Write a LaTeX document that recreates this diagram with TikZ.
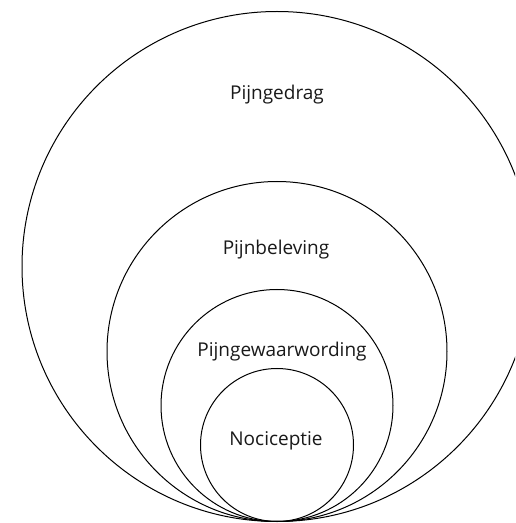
\documentclass[tikz,border=0pt]{standalone}
\usepackage{fontspec}
\setmainfont{Open Sans}
\begin{document}
\begin{tikzpicture}[x=1pt,y=1pt,
  ring/.style={circle,draw=black,line width=1pt,inner sep=0pt,minimum size=#1},
  lbl/.style={font=\fontsize{19}{22}\selectfont,text=black!90}]
\useasboundingbox (0,0) rectangle (515,523);
\clip (0,0) rectangle (515,523);
\node[ring=510pt] (c1) at (277,256.5) {};
\node[ring=340pt] (c2) at (277,171.5) {};
\node[ring=232pt] (c3) at (277,117.5) {};
\node[ring=153pt] (c4) at (277,78) {};
\node[lbl] (t1) at (277,428) {Pijngedrag};
\node[lbl] (t2) at (276,273) {Pijnbeleving};
\node[lbl] (t3) at (282,171) {Pijngewaarwording};
\node[lbl] (t4) at (276,82) {Nociceptie};
\end{tikzpicture}
\end{document}
